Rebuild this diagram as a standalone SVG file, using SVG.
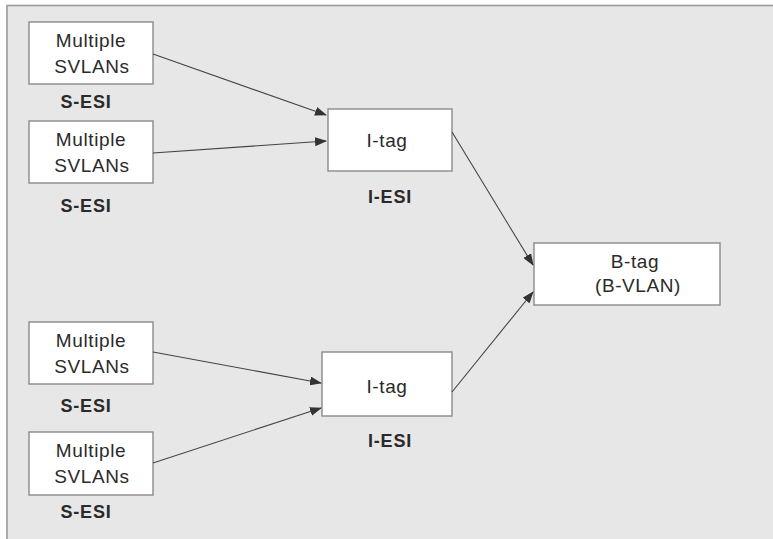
<svg xmlns="http://www.w3.org/2000/svg" width="773" height="539" viewBox="0 0 773 539">
<style>
.frame{fill:#e6e7e6;stroke:#999;stroke-width:1.6}
.box{fill:#fff;stroke:#8a8a8a;stroke-width:1.4}
.t{font-family:"Liberation Sans",Arial,sans-serif;font-size:19px;fill:#2a2a2a;text-anchor:middle;letter-spacing:0.6px}
.b{font-family:"Liberation Sans",Arial,sans-serif;font-size:18px;font-weight:bold;fill:#2a2a2a;text-anchor:middle;letter-spacing:0.8px}
.c{stroke:#444;stroke-width:1.1;fill:none;marker-end:url(#ah)}
</style>
<defs>
<marker id="ah" markerWidth="12" markerHeight="9" refX="11" refY="4.5" orient="auto" markerUnits="userSpaceOnUse">
<path d="M0,0 L12,4.5 L0,9 Z" fill="#333"/>
</marker>
</defs>
<rect class="frame" x="7" y="5.5" width="780" height="545"/>
<g id="s1">
<rect class="box" x="29" y="22" width="124" height="62"/>
<text class="t" x="91" y="47">Multiple</text>
<text class="t" x="92" y="73">SVLANs</text>
<text class="b" x="86" y="108">S-ESI</text>
</g>
<g id="s2">
<rect class="box" x="29" y="121" width="124" height="62"/>
<text class="t" x="91" y="146">Multiple</text>
<text class="t" x="92" y="172">SVLANs</text>
<text class="b" x="86" y="212">S-ESI</text>
</g>
<g id="s3">
<rect class="box" x="29" y="322" width="124" height="62"/>
<text class="t" x="91" y="347">Multiple</text>
<text class="t" x="92" y="373">SVLANs</text>
<text class="b" x="86" y="412">S-ESI</text>
</g>
<g id="s4">
<rect class="box" x="29" y="432" width="124" height="63"/>
<text class="t" x="91" y="457">Multiple</text>
<text class="t" x="92" y="483">SVLANs</text>
<text class="b" x="86" y="518">S-ESI</text>
</g>
<g id="i1">
<rect class="box" x="328" y="109" width="124" height="62"/>
<text class="t" x="387" y="147">I-tag</text>
<text class="b" x="390" y="203">I-ESI</text>
</g>
<g id="i2">
<rect class="box" x="322" y="352" width="130" height="64"/>
<text class="t" x="387" y="393">I-tag</text>
<text class="b" x="390" y="447">I-ESI</text>
</g>
<g id="btag">
<rect class="box" x="534" y="243" width="186" height="62"/>
<text class="t" x="635" y="268">B-tag</text>
<text class="t" x="638" y="292">(B-VLAN)</text>
</g>
<g id="connectors">
<line class="c" x1="153" y1="54" x2="326" y2="115"/>
<line class="c" x1="153" y1="153" x2="326" y2="141"/>
<line class="c" x1="153" y1="352" x2="321" y2="383"/>
<line class="c" x1="153" y1="463" x2="321" y2="408"/>
<line class="c" x1="452" y1="132" x2="533" y2="265"/>
<line class="c" x1="452" y1="392" x2="533" y2="292"/>
</g>
</svg>
